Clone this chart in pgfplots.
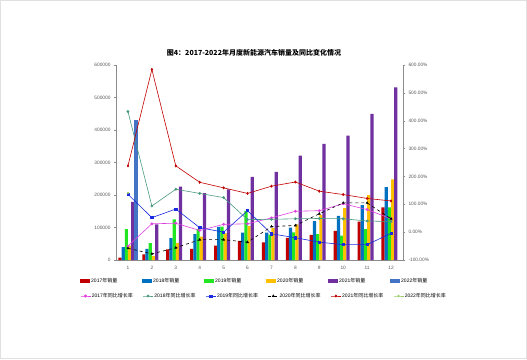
\documentclass[border=0pt]{standalone}
\usepackage{pgfplots}
\pgfplotsset{compat=1.18}
\usepackage{fontspec}
\setmainfont{Liberation Sans}
\newfontfamily\cjk{Noto Sans CJK SC}
\definecolor{c2017}{HTML}{C00000}
\definecolor{c2018}{HTML}{0070C0}
\definecolor{c2019}{HTML}{22E622}
\definecolor{c2020}{HTML}{FFC000}
\definecolor{c2021}{HTML}{7030A0}
\definecolor{c2022}{HTML}{4472C4}
\definecolor{l2017}{HTML}{E040E0}
\definecolor{l2018}{HTML}{4A9A80}
\definecolor{l2019}{HTML}{1A2AE0}
\definecolor{l2020}{HTML}{000000}
\definecolor{l2021}{HTML}{C00000}
\definecolor{l2022}{HTML}{99CC66}
\begin{document}
\begin{tikzpicture}[x=1pt,y=1pt]
\path[use as bounding box] (0,0) rectangle (527,359);
\draw[black!12] (0.5,0.5) rectangle (526.5,358.5);
\node[font=\cjk\bfseries\fontsize{7}{8}\selectfont, anchor=center, inner sep=0pt] at (254,306) {图4：2017-2022年月度新能源汽车销量及同比变化情况};

\begin{axis}[
  at={(116pt,99pt)}, anchor=south west,
  width=287pt, height=195pt, scale only axis,
  xmin=0.5, xmax=12.5, ymin=0, ymax=600000,
  axis x line*=bottom, axis y line*=left,
  axis line style={black!45, -},
  xtick={1,2,3,4,5,6,7,8,9,10,11,12},
  ytick={0,100000,200000,300000,400000,500000,600000},
  scaled y ticks=false,
  yticklabel style={/pgf/number format/fixed, /pgf/number format/1000 sep={}},
  tick label style={font=\fontsize{4.8}{5.5}\selectfont, text=black!65},
  xticklabel style={yshift=-1pt},
  /pgf/number format/assume math mode=true,
  tick align=outside, major tick length=2pt, tick style={black!45},
  xtick style={draw=none},
  ybar=0pt, bar width=3.2pt,
  legend columns=6,
  legend style={at={(-0.1254,-0.1077)}, anchor=west, draw=none, fill=none, inner sep=0pt,
    font=\fontsize{5}{6}\selectfont, nodes={inner sep=1pt},
    /tikz/every even column/.append style={column sep=0pt}},
  legend image code/.code={\fill[#1] (0pt,-2pt) rectangle (10pt,2.5pt);},
]
\addplot[fill=c2017, draw=none] coordinates {(1,7500) (2,17000) (3,33000) (4,34000) (5,44000) (6,59000) (7,54000) (8,68000) (9,77000) (10,90000) (11,118000) (12,162000)};
\addplot[fill=c2018, draw=none] coordinates {(1,40000) (2,34000) (3,67000) (4,80000) (5,102000) (6,84000) (7,84000) (8,100000) (9,120000) (10,136000) (11,169000) (12,224000)};
\addplot[fill=c2019, draw=none] coordinates {(1,95000) (2,52000) (3,125000) (4,95000) (5,103000) (6,151000) (7,78000) (8,85000) (9,80000) (10,75000) (11,95000) (12,162000)};
\addplot[fill=c2020, draw=none] coordinates {(1,44000) (2,13000) (3,53000) (4,72000) (5,82000) (6,104000) (7,98000) (8,109000) (9,138000) (10,160000) (11,200000) (12,248000)};
\addplot[fill=c2021, draw=none] coordinates {(1,179000) (2,110000) (3,226000) (4,206000) (5,217000) (6,256000) (7,271000) (8,321000) (9,357000) (10,383000) (11,450000) (12,531000)};
\addplot[fill=c2022, draw=none] coordinates {(1,431000)};
\addlegendentry{\makebox[50pt][l]{2017{\cjk 年销量}}}
\addlegendentry{\makebox[50pt][l]{2018{\cjk 年销量}}}
\addlegendentry{\makebox[50pt][l]{2019{\cjk 年销量}}}
\addlegendentry{\makebox[50pt][l]{2020{\cjk 年销量}}}
\addlegendentry{\makebox[50pt][l]{2021{\cjk 年销量}}}
\addlegendentry{\makebox[50pt][l]{2022{\cjk 年销量}}}
\end{axis}

\begin{axis}[
  at={(116pt,99pt)}, anchor=south west,
  width=287pt, height=195pt, scale only axis,
  xmin=0.5, xmax=12.5, ymin=-100, ymax=600,
  axis x line=none, axis y line*=right,
  xtick=\empty, xticklabels={},
  axis line style={black!45, -},
  ytick={-100,0,100,200,300,400,500,600},
  yticklabel={\pgfmathprintnumber[fixed,fixed zerofill,precision=2]{\tick}\%},
  tick label style={font=\fontsize{4.8}{5.5}\selectfont, text=black!65},
  /pgf/number format/assume math mode=true,
  tick align=outside, major tick length=2pt, tick style={black!45},
  legend columns=6,
  legend style={at={(-0.1254,-0.1846)}, anchor=west, draw=none, fill=none, inner sep=0pt,
    font=\fontsize{5}{6}\selectfont, nodes={inner sep=1pt},
    /tikz/every even column/.append style={column sep=0pt}},
  legend image code/.code={\draw[#1, mark repeat=2, mark phase=2] plot coordinates {(0pt,0pt) (5pt,0pt) (10pt,0pt)};},
  every axis plot/.append style={line width=0.6pt, mark size=1.1pt},
]
\addplot[color=l2017, mark=*] coordinates {(1,-50) (2,30) (3,32) (4,6) (5,28) (6,30) (7,51) (8,75) (9,77) (10,102) (11,81) (12,48)};
\addplot[color=l2018, mark=*] coordinates {(1,433) (2,94) (3,154) (4,139) (5,124) (6,45) (7,46) (8,48) (9,49) (10,48) (11,40) (12,38)};
\addplot[color=l2019, mark=square*] coordinates {(1,136) (2,52) (3,83) (4,16) (5,0) (6,77) (7,-6) (8,-20) (9,-36) (10,-45) (11,-45) (12,-4)};
\addplot[color=l2020, mark=triangle*, dashed, mark options={solid}] coordinates {(1,-58) (2,-78) (3,-56) (4,-27) (5,-27) (6,-36) (7,20) (8,24) (9,66) (10,105) (11,105) (12,48)};
\addplot[color=l2021, mark=diamond*] coordinates {(1,238) (2,584) (3,238) (4,179) (5,159) (6,139) (7,165) (8,180) (9,147) (10,135) (11,121) (12,112)};
\addplot[color=l2022, mark=star] coordinates {(1,141)};
\addlegendentry{\makebox[50pt][l]{2017{\cjk 年同比增长率}}}
\addlegendentry{\makebox[50pt][l]{2018{\cjk 年同比增长率}}}
\addlegendentry{\makebox[50pt][l]{2019{\cjk 年同比增长率}}}
\addlegendentry{\makebox[50pt][l]{2020{\cjk 年同比增长率}}}
\addlegendentry{\makebox[50pt][l]{2021{\cjk 年同比增长率}}}
\addlegendentry{\makebox[50pt][l]{2022{\cjk 年同比增长率}}}
\end{axis}
\end{tikzpicture}
\end{document}
